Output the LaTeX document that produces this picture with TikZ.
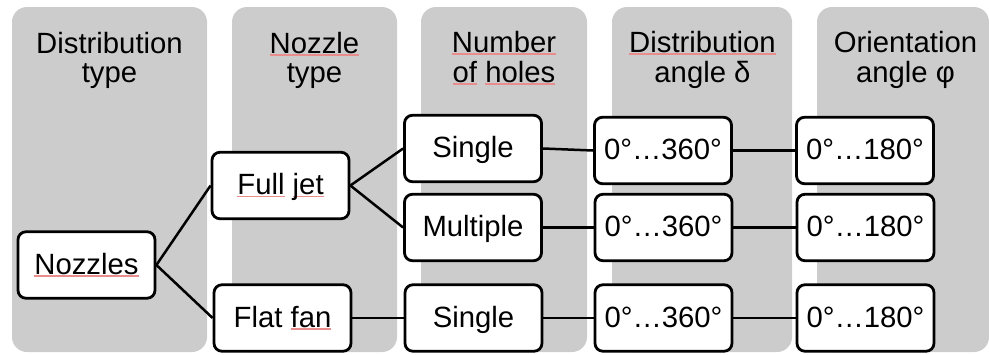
\documentclass[tikz,border=0pt]{standalone}
\usepackage{fontspec}
\setmainfont{Liberation Sans}
\definecolor{colfill}{RGB}{204,204,204}
\definecolor{squig}{RGB}{232,140,140}
% thin red proofing underline below a word
\newsavebox\spellbox
\newcommand\spellmark[1]{\leavevmode\sbox\spellbox{#1}\rlap{\textcolor{squig}{\rule[-2.5pt]{\wd\spellbox}{1.1pt}}}\usebox\spellbox}

\begin{document}
\begin{tikzpicture}[x=1pt,y=-1pt,
  column/.style={fill=colfill, rounded corners=15pt},
  heading/.style={font=\fontsize{29.3}{29}\selectfont, inner sep=0pt},
  item/.style={draw, line width=2.8pt, rounded corners=8pt, fill=white,
    minimum width=137pt, minimum height=66.5pt, inner sep=0pt,
    font=\fontsize{29.3}{29}\selectfont, text height=20pt, text depth=2pt},
  link/.style={line width=2.5pt}]

\useasboundingbox (0,0) rectangle (989,354);

% grey category columns
\fill[column] (12,7) rectangle (207,352);
\fill[column] (232,7) rectangle (397,352);
\fill[column] (421,7) rectangle (587,352);
\fill[column] (612,7) rectangle (792,352);
\fill[column] (817,7) rectangle (989,352);

% column headings: two centred lines, baselines 29pt apart
\newcommand\headlines[2]{\begin{tabular}[b]{@{}c@{}}#1\\[0pt]#2\end{tabular}}
\node[heading, anchor=base] (h1) at (109.5,82) {\headlines{Distribution}{type}};
\node[heading, anchor=base] (h2) at (314.5,82) {\headlines{\spellmark{Nozzle}}{type}};
\node[heading, anchor=base] (h3) at (504,82) {\headlines{\spellmark{Number}}{\spellmark{of} \spellmark{holes}}};
\node[heading, anchor=base] (h4) at (702.5,82) {\headlines{\spellmark{Distribution}}{angle δ}};
\node[heading, anchor=base] (h5) at (905.5,82) {\headlines{Orientation}{angle φ}};

% tree items
\node[item] (noz)  at (86.5,265)   {\spellmark{Nozzles}};
\node[item] (full) at (280.5,185.5) {\spellmark{Full} \spellmark{jet}};
\node[item] (flat) at (282.5,318)  {Flat \spellmark{fan}};

\node[item] (sa) at (473,148.5) {Single};
\node[item] (mb) at (473,227.5) {Multiple};
\node[item] (sc) at (473.5,318) {Single};

\node[item] (da) at (663,150.5)   {0°…360°};
\node[item] (db) at (663.5,227.5) {0°…360°};
\node[item] (dc) at (663.5,318)   {0°…360°};

\node[item] (oa) at (865,150.5)   {0°…180°};
\node[item] (ob) at (865.5,227.5) {0°…180°};
\node[item] (oc) at (865.5,318)   {0°…180°};

% connectors
\draw[link] (noz.east) -- (full.west);
\draw[link] (noz.east) -- (flat.west);
\draw[link] (full.east) -- (sa.west);
\draw[link] (full.east) -- (mb.west);
\draw[link] (flat.east) -- (sc.west);
\draw[link] (sa.east) -- (da.west);
\draw[link] (mb.east) -- (db.west);
\draw[link] (sc.east) -- (dc.west);
\draw[link] (da.east) -- (oa.west);
\draw[link] (db.east) -- (ob.west);
\draw[link] (dc.east) -- (oc.west);
\end{tikzpicture}
\end{document}
